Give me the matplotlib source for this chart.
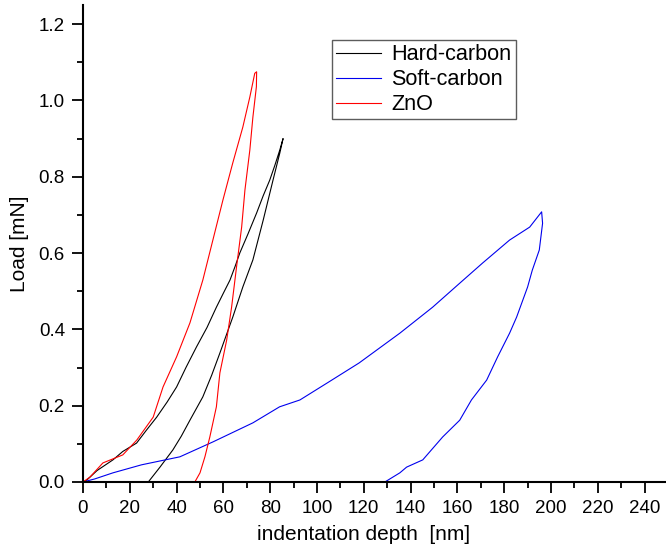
import numpy as np
import matplotlib.pyplot as plt

plt.rcParams['font.family'] = ['Liberation Sans', 'DejaVu Sans']

# Hard-carbon: loading then unloading (depth nm, load mN)
hard_x = [0, 1.6, 6, 12.8, 17, 22.9, 27, 31.5, 36, 40, 44, 48.5, 53, 57, 60, 62.8, 65, 67, 70.5,
          74.2, 77, 79.8, 82, 84.1, 85.5,
          84.1, 81.2, 77, 72.6, 68.3, 64, 58.5, 55, 51.2, 45.7, 42, 38.4, 32.9, 27.9]
hard_y = [0, 0.005, 0.03, 0.058, 0.08, 0.102, 0.135, 0.17, 0.21, 0.249, 0.3, 0.354, 0.405, 0.458,
          0.495, 0.529, 0.565, 0.6, 0.65, 0.705, 0.75, 0.791, 0.83, 0.87, 0.900,
          0.862, 0.791, 0.686, 0.582, 0.511, 0.432, 0.338, 0.28, 0.223, 0.162, 0.12, 0.084, 0.039, 0]

# Soft-carbon
soft_x = [0, 5, 12.8, 25, 41.4, 55.5, 72.6, 84, 92.7, 105, 118, 135.4, 149.4, 161, 170.8, 182.3,
          190.9, 196,
          196.4, 195, 192, 190, 185.3, 182.3, 177.2, 172.5, 166, 161, 153.7, 145.2, 138.3, 135.4, 129]
soft_y = [0, 0.008, 0.024, 0.045, 0.066, 0.105, 0.155, 0.197, 0.215, 0.262, 0.312, 0.39, 0.458,
          0.521, 0.574, 0.634, 0.668, 0.708,
          0.678, 0.608, 0.555, 0.511, 0.432, 0.39, 0.328, 0.267, 0.215, 0.162, 0.118, 0.058, 0.039,
          0.024, 0]

# ZnO
zno_x = [0, 3, 8.5, 17, 23, 30, 34.2, 40, 45.7, 51.2, 55.5, 59.8, 64, 68.3, 71.3, 73.4, 74.2,
         74.1, 72.6, 71.3, 69.2, 67.8, 65.6, 63.5, 61.4, 58.5, 57, 54.2, 52.1, 50, 47.8]
zno_y = [0, 0.013, 0.05, 0.071, 0.11, 0.17, 0.249, 0.328, 0.417, 0.529, 0.634, 0.739, 0.836, 0.93,
         1.009, 1.071, 1.075,
         1.036, 0.956, 0.87, 0.765, 0.668, 0.563, 0.458, 0.372, 0.286, 0.197, 0.118, 0.066, 0.024, 0]

fig = plt.figure(figsize=(6.66, 5.49), dpi=100)
ax = fig.add_axes([83 / 666, 1 - 482 / 549, 585 / 666, 477 / 549])

ax.plot(hard_x, hard_y, color='black', lw=0.8, label='Hard-carbon')
ax.plot(soft_x, soft_y, color='#0000ee', lw=0.8, label='Soft-carbon')
ax.plot(zno_x, zno_y, color='red', lw=0.8, label='ZnO')

ax.set_xlim(0, 250)
ax.set_ylim(0, 1.25)
ax.set_xticks(np.arange(0, 241, 20))
ax.set_xticks(np.arange(10, 250, 20), minor=True)
ax.set_yticks(np.arange(0, 1.21, 0.2))
ax.set_yticks(np.arange(0.1, 1.25, 0.2), minor=True)
ax.yaxis.set_major_formatter(plt.FormatStrFormatter('%.1f'))
ax.tick_params(which='major', direction='out', length=8, width=1.3, labelsize=13.5, pad=5)
ax.tick_params(which='minor', direction='out', length=4, width=1.3)

for s in ['top', 'right']:
    ax.spines[s].set_visible(False)
for s in ['left', 'bottom']:
    ax.spines[s].set_linewidth(1.5)

ax.set_xlabel('indentation depth  [nm]', fontsize=15)
ax.xaxis.set_label_coords((363.5 - 83) / 585, -(535 - 482) / 477, transform=ax.transAxes)
ax.xaxis.label.set_va('center')
ax.set_ylabel('Load [mN]', fontsize=15)
ax.yaxis.set_label_coords(-(83 - 20) / 585, 0.5, transform=ax.transAxes)
ax.yaxis.label.set_va('center')

leg = ax.legend(loc='upper left', bbox_to_anchor=(249 / 585, 1 - 35 / 477), fontsize=15.6,
                frameon=True, fancybox=False, handlelength=2.07, borderpad=0.2,
                labelspacing=0.18, handletextpad=0.46, borderaxespad=0)
leg.get_frame().set_edgecolor('#333333')
leg.get_frame().set_linewidth(1.0)

fig.savefig('out.png', dpi=100)
